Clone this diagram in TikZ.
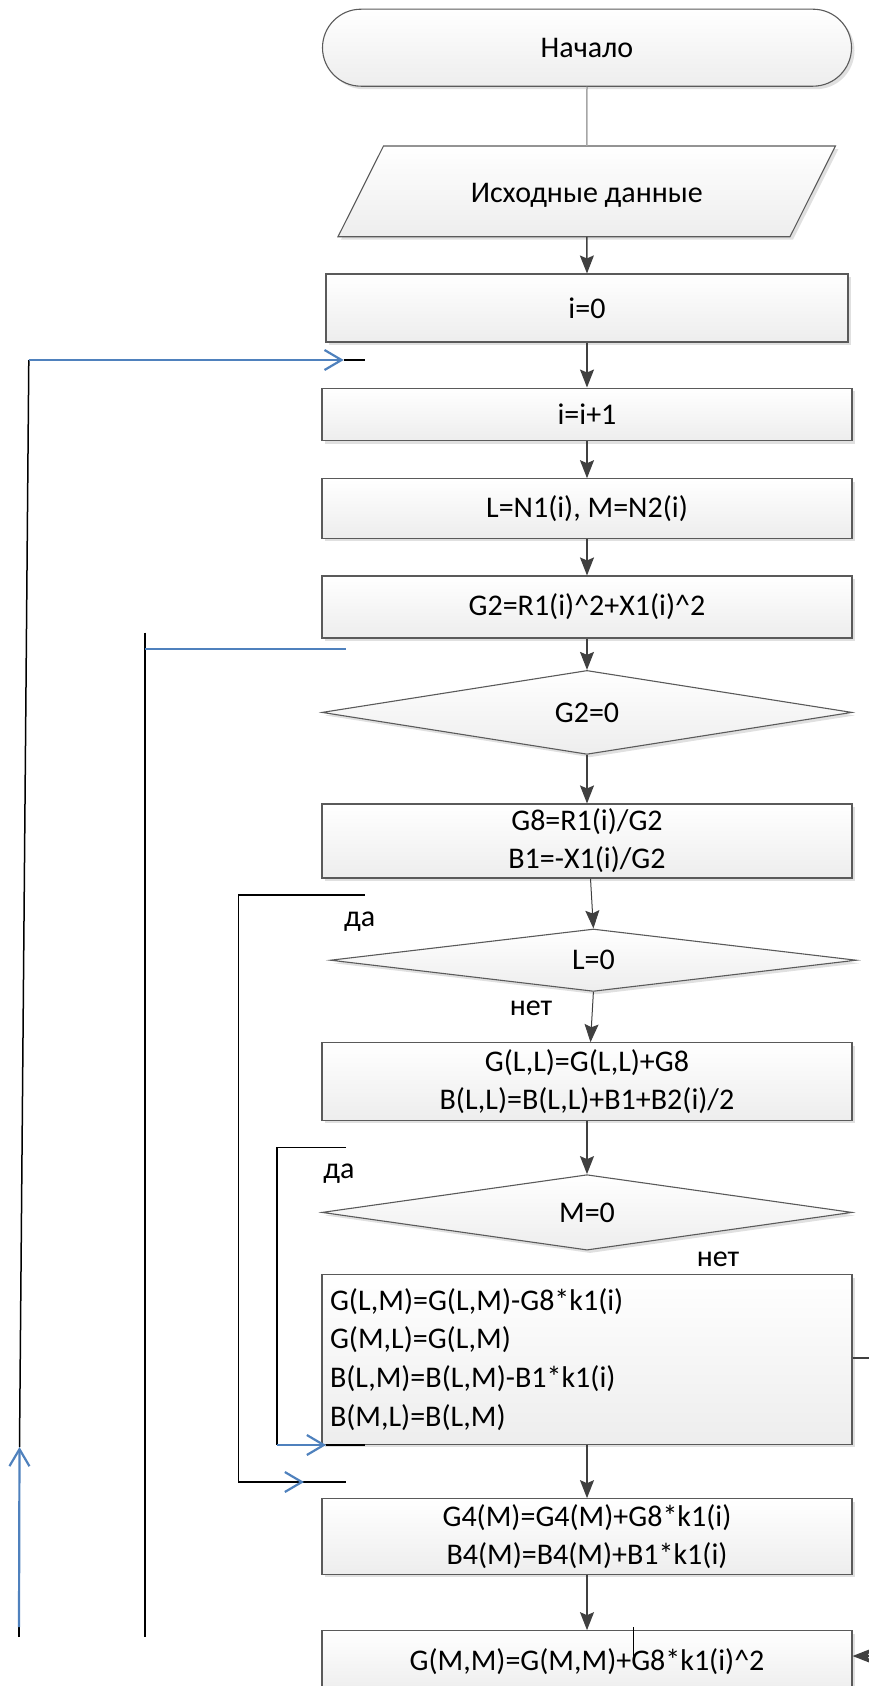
\documentclass[tikz,border=0pt]{standalone}
\usepackage{fontspec}
\setmainfont{Carlito}
\usetikzlibrary{shapes.geometric,shadows,arrows.meta}
\definecolor{edgec}{HTML}{5A5A5A}
\definecolor{arrowc}{HTML}{404040}
\definecolor{bluec}{HTML}{4F81BD}
\definecolor{shadec}{HTML}{E0E0E0}
\definecolor{startc}{HTML}{A6A6A6}
\tikzset{
  txt/.style={font=\fontsize{30}{38}\selectfont},
  base/.style={txt, draw=edgec, line width=1.1pt, top color=white, bottom color=black!7,
    drop shadow={shadow xshift=3pt, shadow yshift=-3pt, fill=shadec, opacity=1}, inner sep=0pt},
  procbox/.style={base, rectangle, minimum width=530pt, align=center},
  decbox/.style={base, diamond, minimum width=530pt, inner sep=0pt},
  arr/.style={draw=arrowc, line width=1.4pt, -{Stealth[length=18pt,width=14pt,inset=3pt]}},
  blk/.style={draw=black, line width=1.5pt},
  bluel/.style={draw=bluec, line width=2pt},
  bluearr/.style={draw=bluec, line width=2.2pt, -{Straight Barb[length=17pt,width=20pt]}},
  lbl/.style={txt, anchor=base, inner sep=0pt}
}
\begin{document}
\begin{tikzpicture}[x=1pt,y=-1pt]
\useasboundingbox (0,0) rectangle (869,1686);
% start terminal
\node[base, rectangle, rounded corners=38.5pt, minimum width=529pt, minimum height=77pt] (start) at (587,47.7) {Начало};
% input parallelogram
\fill[shadec] (386.5,149) -- (838.4,149) -- (793,239.7) -- (341,239.7) -- cycle;
\draw[draw=edgec, line width=1.1pt, top color=white, bottom color=black!7] (383.5,146) -- (835.4,146) -- (790,236.7) -- (338,236.7) -- cycle;
\node[minimum width=452pt, minimum height=90.7pt, inner sep=0pt] (inputshape) at (586.8,191.35) {};
\node[txt, inner sep=0pt] (inputtext) at (586.8,195) {Исходные данные};
% process boxes
\node[procbox, minimum width=522pt, minimum height=68pt] (i0) at (587,308) {i=0};
\node[procbox, minimum height=52.7pt] (inc) at (587,414.4) {i=i+1};
\node[procbox, minimum height=59.3pt] (LM) at (587,508.4) {L=N1(i), M=N2(i)};
\node[procbox, minimum height=62pt] (G2) at (587,607) {G2=R1(i)\^{}2+X1(i)\^{}2};
\node[decbox, minimum height=75.3pt] (d1) at (587,712.4) {G2=0};
\node[procbox, minimum height=74pt] (G8) at (587,841) {G8=R1(i)/G2\\B1=-X1(i)/G2};
\node[decbox, minimum width=526pt, minimum height=55pt] (d2) at (593.4,960.2) {L=0};
\node[procbox, minimum height=77.3pt] (GLL) at (587,1081.4) {G(L,L)=G(L,L)+G8\\B(L,L)=B(L,L)+B1+B2(i)/2};
\node[decbox, minimum height=59.3pt] (d3) at (587,1212.4) {M=0};
\node[procbox, minimum height=169.3pt, text width=514pt, inner xsep=8pt, align=left, font=\fontsize{30}{38.7}\selectfont] (big) at (587,1359.4) {G(L,M)=G(L,M)-G8*k1(i)\\G(M,L)=G(L,M)\\B(L,M)=B(L,M)-B1*k1(i)\\B(M,L)=B(L,M)};
\node[procbox, minimum height=75.6pt] (G4) at (587,1536.5) {G4(M)=G4(M)+G8*k1(i)\\B4(M)=B4(M)+B1*k1(i)};
\node[procbox, minimum height=62pt] (GMM) at (587,1661.7) {G(M,M)=G(M,M)+G8*k1(i)\^{}2};
% labels
\node[lbl] (da1) at (359.7,926.7) {да};
\node[lbl] (net1) at (531,1015) {нет};
\node[lbl] (da2) at (339,1178) {да};
\node[lbl] (net2) at (718,1266.7) {нет};
% main connectors
\draw[draw=startc, line width=1.5pt] (start.south) -- (inputshape.north);
\draw[arr] (inputshape.south) -- (i0.north);
\draw[arr] (i0.south) -- (inc.north);
\draw[arr] (inc.south) -- (LM.north);
\draw[arr] (LM.south) -- (G2.north);
\draw[arr] (G2.south) -- (d1.north);
\draw[arr] (d1.south) -- (G8.north);
\draw[arr, line width=1pt] ([xshift=3.5pt]G8.south) -- (d2.north);
\draw[arr, line width=1pt] (d2.south) -- ([xshift=3.5pt]GLL.north);
\draw[arr] (GLL.south) -- (d3.north);
\draw[arr] (big.south) -- (G4.north);
\draw[arr] (G4.south) -- (GMM.north);
% right side
\coordinate (redge) at (869,1358);
\coordinate (rin) at (869,1656);
\draw[draw=arrowc, line width=2pt] (big.east |- redge) -- (redge);
\draw[arr] (rin) -- (rin -| GMM.east);
\coordinate (s1) at (633.5,1627);
\coordinate (s2) at (633.5,1656);
\draw[draw=black, line width=1pt] (s1) -- (s2);
% loop 1 (outer left)
\coordinate (a1) at (28.8,360);
\coordinate (a2) at (343.7,360);
\coordinate (a3) at (364.7,360);
\coordinate (a4) at (19.5,1447);
\coordinate (a5) at (19,1627);
\coordinate (a6) at (19,1637);
\draw[blk] (a2) -- (a3);
\draw[blk] (a1) -- (a4);
\draw[bluearr] (a1) -- (a2);
\draw[blk] (a6) -- (a5);
\draw[bluearr] (a5) -- (a4);
% loop 2
\coordinate (b1) at (145.2,632.7);
\coordinate (b2) at (145.2,1636.7);
\coordinate (b3) at (346,649);
\draw[blk] (b1) -- (b2);
\draw[bluel] (b1 |- b3) -- (b3);
% loop 3 (L=0 yes)
\coordinate (e1) at (364.7,895);
\coordinate (e2) at (238.4,895);
\coordinate (e3) at (238.4,1482);
\coordinate (e4) at (346,1482);
\coordinate (e5) at (302,1482);
\coordinate (e6) at (304,1482);
\draw[blk] (e1) -- (e2) -- (e3) -- (e4);
\draw[bluearr] (e5) -- (e6);
% loop 4 (M=0 yes)
\coordinate (f1) at (346,1147.7);
\coordinate (f2) at (277.2,1147.7);
\coordinate (f3) at (277.2,1445);
\coordinate (f4) at (326,1445);
\coordinate (f5) at (364.7,1445);
\draw[blk] (f1) -- (f2) -- (f3);
\draw[blk, line width=2pt] (f4) -- (f5);
\draw[bluearr] (f3) -- (f4);
\end{tikzpicture}
\end{document}
